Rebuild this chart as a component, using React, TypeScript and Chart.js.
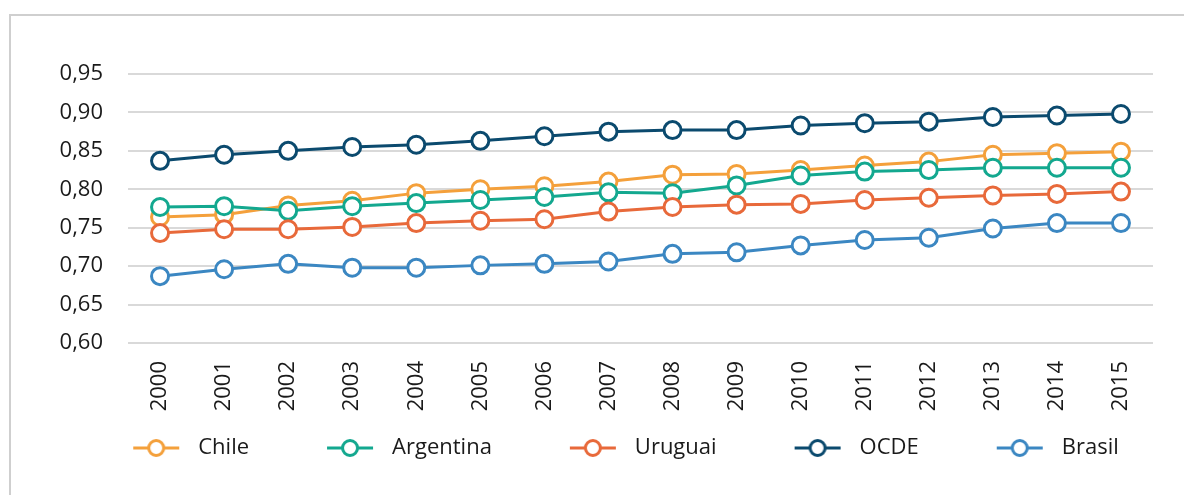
import React, { useEffect, useRef } from "react";
import { Chart, registerables } from "chart.js";

Chart.register(...registerables);

const YEARS = ["2000","2001","2002","2003","2004","2005","2006","2007","2008","2009","2010","2011","2012","2013","2014","2015"];
const CHILE = [0.764,0.767,0.779,0.785,0.795,0.800,0.804,0.810,0.819,0.820,0.825,0.831,0.836,0.845,0.847,0.849];
const ARGENTINA = [0.777,0.778,0.772,0.778,0.782,0.786,0.790,0.796,0.795,0.805,0.818,0.823,0.825,0.828,0.828,0.828];
const URUGUAI = [0.743,0.748,0.748,0.751,0.756,0.759,0.761,0.771,0.777,0.780,0.781,0.786,0.789,0.792,0.794,0.797];
const OCDE = [0.837,0.845,0.850,0.855,0.858,0.863,0.869,0.875,0.877,0.877,0.883,0.886,0.888,0.894,0.896,0.898];
const BRASIL = [0.687,0.696,0.703,0.698,0.698,0.701,0.703,0.706,0.716,0.718,0.727,0.734,0.737,0.749,0.756,0.756];
const Y_TICKS = [0.60,0.65,0.70,0.75,0.80,0.85,0.90,0.95];

const SERIES_NAMES = ["Chile","Argentina","Uruguai","OCDE","Brasil"];
const SERIES_DATA = [CHILE, ARGENTINA, URUGUAI, OCDE, BRASIL];
const SERIES_COLORS = ["#f4a03b","#13a88f","#e8693a","#0b4a6e","#3b87c2"];

const FONT = "'Open Sans', 'Noto Sans', sans-serif";
const LEAD = 66;
const LINE_W = 46;
const TRAIL = 8;
const ICON_W = LEAD + LINE_W + TRAIL;

function makeIcon(color: string): HTMLCanvasElement {
  const c = document.createElement("canvas");
  c.width = ICON_W;
  c.height = 24;
  const ctx = c.getContext("2d")!;
  ctx.strokeStyle = color;
  ctx.lineWidth = 3;
  ctx.beginPath();
  ctx.moveTo(LEAD, 12);
  ctx.lineTo(LEAD + LINE_W, 12);
  ctx.stroke();
  ctx.beginPath();
  ctx.arc(LEAD + LINE_W / 2, 12, 7.5, 0, Math.PI * 2);
  ctx.fillStyle = "#ffffff";
  ctx.fill();
  ctx.stroke();
  return c;
}

export default function App() {
  const ref = useRef<HTMLCanvasElement | null>(null);

  useEffect(() => {
    if (!ref.current) return;
    const icons = SERIES_COLORS.map(makeIcon);
    const datasets = SERIES_NAMES.map((name, i) => ({
      label: name,
      data: SERIES_DATA[i],
      borderColor: SERIES_COLORS[i],
      backgroundColor: "#ffffff",
      borderWidth: 3,
      pointRadius: 8.5,
      pointBorderWidth: 3,
      pointBackgroundColor: "#ffffff",
      pointBorderColor: SERIES_COLORS[i],
      tension: 0,
      order: SERIES_NAMES.length - i,
    }));
    const chart = new Chart(ref.current, {
      type: "line",
      data: { labels: YEARS, datasets },
      options: {
        animation: false,
        responsive: false,
        maintainAspectRatio: false,
        layout: { padding: { left: 33, right: 31, top: 74, bottom: 26 } },
        plugins: {
          tooltip: { enabled: false },
          legend: {
            position: "bottom",
            labels: {
              usePointStyle: true,
              pointStyleWidth: ICON_W,
              padding: 12,
              color: "#1a1a1a",
              font: { family: FONT, size: 22 },
              generateLabels: (ch: any) => {
                const items = (Chart as any).defaults.plugins.legend.labels.generateLabels(ch);
                return items
                  .sort((a: any, b: any) => a.datasetIndex - b.datasetIndex)
                  .map((it: any) => ({ ...it, pointStyle: icons[it.datasetIndex] }));
              },
            },
          },
        },
        scales: {
          x: {
            offset: true,
            grid: { display: false, drawTicks: false },
            border: { display: false },
            ticks: {
              autoSkip: false,
              minRotation: 90,
              maxRotation: 90,
              padding: 18,
              color: "#1a1a1a",
              font: { family: FONT, size: 22 },
            },
            afterFit: (s: any) => { s.height = 82; },
          },
          y: {
            min: 0.6,
            max: 0.95,
            grid: { color: "#d9d9d9", lineWidth: 2, drawTicks: false },
            border: { display: false },
            afterBuildTicks: (s: any) => { s.ticks = Y_TICKS.map((v) => ({ value: v })); },
            ticks: {
              padding: 25,
              color: "#1a1a1a",
              font: { family: FONT, size: 22 },
              callback: (v: any) => Number(v).toFixed(2).replace(".", ","),
            },
            afterFit: (s: any) => { s.width = 95; },
          },
        },
      },
    });
    return () => chart.destroy();
  }, []);

  return (
    <div style={{ position: "fixed", left: 0, top: 0, width: 1184, height: 495, overflow: "hidden", background: "#ffffff" }}>
      <div style={{ position: "absolute", left: 9, top: 14, width: 2000, height: 2000, border: "2px solid #cfcfcf", boxSizing: "border-box" }} />
      <canvas ref={ref} width={1184} height={495} style={{ position: "absolute", left: 0, top: 0 }} />
    </div>
  );
}
